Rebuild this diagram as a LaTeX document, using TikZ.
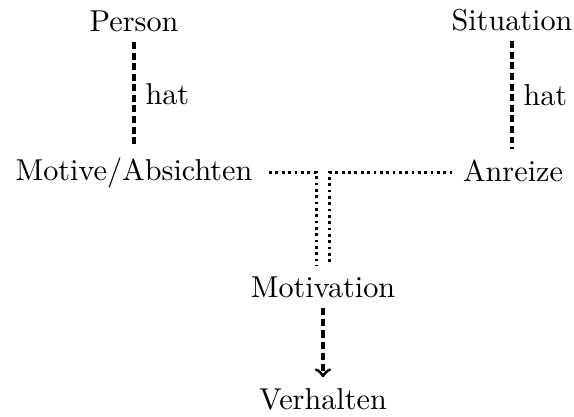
\documentclass[tikz,border=0pt]{standalone}
\begin{document}
\begin{tikzpicture}[x=0.331pt,y=-0.331pt,
  term/.style={anchor=base},
  haslink/.style={line width=1pt,dash pattern=on 2.3pt off 1.2pt},
  feeds/.style={line width=1pt,dash pattern=on 0.9pt off 1.2pt},
  leadsto/.style={line width=1pt,dash pattern=on 2.4pt off 1.3pt,->}]
  \useasboundingbox (0,0) rectangle (574,416);

  \node[term] (person)     at (134,31)  {Person};
  \node[term] (situation)  at (512,30)  {Situation};
  \node[term] (motive)     at (134,180) {Motive/Absichten};
  \node[term] (anreize)    at (513,181) {Anreize};
  \node[term] (motivation) at (323,297) {Motivation};
  \node[term] (verhalten)  at (323,409) {Verhalten};

  \draw[haslink] (person.south) -- (person.south |- motive.north)
    node[midway,right] (hatL) {hat};
  \draw[haslink] (situation.south) -- (situation.south |- anreize.north)
    node[midway,right] (hatR) {hat};

  \draw[feeds,shorten <=2pt] (motive.east) -| ([xshift=-2.3pt]motivation.north);
  \draw[feeds] (anreize.west |- motive.east) -| ([xshift=2.3pt]motivation.north);

  \draw[leadsto] (motivation.south) -- (verhalten.north);
\end{tikzpicture}
\end{document}
